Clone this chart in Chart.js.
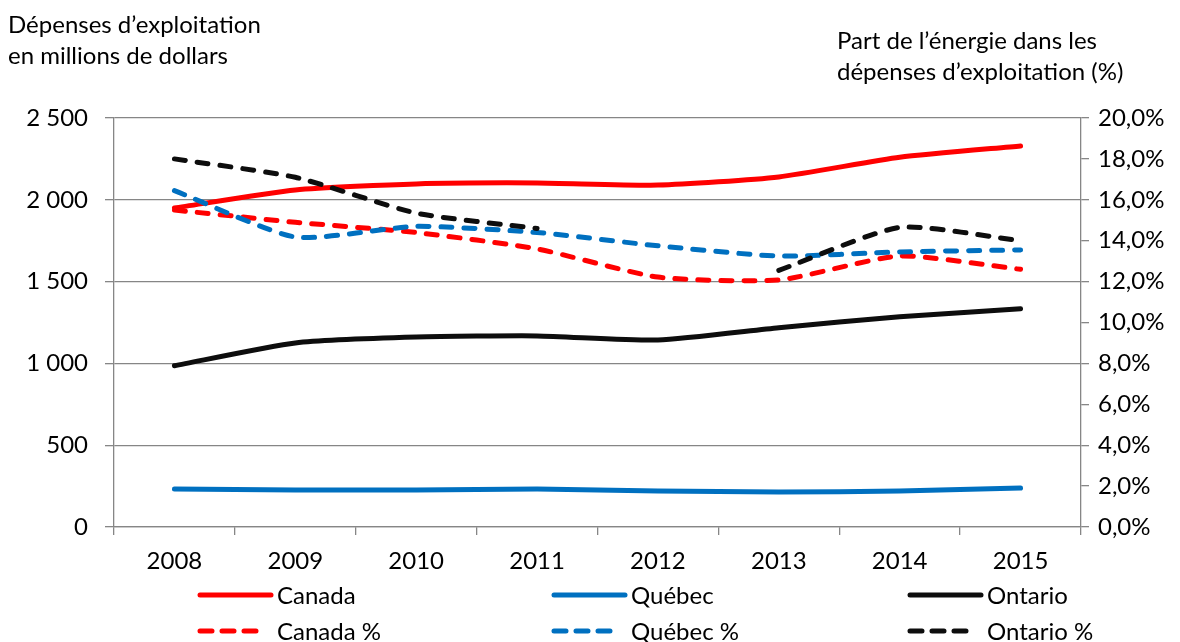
<!DOCTYPE html>
<html lang="fr">
<head>
<meta charset="utf-8">
<script src="https://cdn.jsdelivr.net/npm/chart.js@4.4.0/dist/chart.umd.min.js"></script>
<style>
  html, body { margin: 0; padding: 0; background: #fff; }
  #wrap { position: relative; width: 1180px; height: 642px; font-family: Lato, sans-serif; }
  #chart { position: absolute; left: 0; top: 0; }
  .ttl { position: absolute; font-size: 24px; line-height: 31px; color: #000; white-space: nowrap; }
</style>
</head>
<body>
<div id="wrap">
  <canvas id="chart" width="1180" height="642"></canvas>
  <div class="ttl" style="left:8px; top:8px;">Dépenses d’exploitation<br>en millions de dollars</div>
  <div class="ttl" style="left:837px; top:24px;">Part de l’énergie dans les<br>dépenses d’exploitation (%)</div>
</div>
<script>
const years = ['2008', '2009', '2010', '2011', '2012', '2013', '2014', '2015'];
const canada = [1950, 2060, 2097, 2103, 2090, 2140, 2260, 2329];
const quebec = [232, 226, 226, 232, 220, 214, 220, 238];
const ontario = [986, 1125, 1161, 1168, 1143, 1218, 1285, 1334];
const canadaPct = [15.5, 14.9, 14.4, 13.6, 12.22, 12.08, 13.25, 12.6];
const quebecPct = [16.45, 14.18, 14.7, 14.4, 13.75, 13.25, 13.45, 13.55];
const ontarioPct = [18.0, 17.1, 15.35, 14.6, null, 12.55, 14.65, 14.0];

const RED = '#ff0000', BLUE = '#0070c0', BLACK = '#0d0d0d';
const GRID = '#868686';
const FONT = 'Lato';
const FSIZE = 24;
const DASH = [11, 12];

function serie(label, data, color, axis, dashed, order) {
  return {
    label, data, yAxisID: axis,
    borderColor: color, backgroundColor: color,
    borderWidth: 5, borderDash: dashed ? DASH : [],
    borderCapStyle: 'round', borderJoinStyle: 'round',
    pointRadius: 0, pointHoverRadius: 0,
    tension: 0.2, spanGaps: false, fill: false, order
  };
}

const datasets = [
  serie('Canada', canada, RED, 'y', false, 6),
  serie('Québec', quebec, BLUE, 'y', false, 5),
  serie('Ontario', ontario, BLACK, 'y', false, 4),
  serie('Canada %', canadaPct, RED, 'y1', true, 3),
  serie('Québec %', quebecPct, BLUE, 'y1', true, 2),
  serie('Ontario %', ontarioPct, BLACK, 'y1', true, 1)
];

// legende sur 3 colonnes, 2 rangees
const legendCols = [200, 554, 910];
const legendRows = [595, 631];
const legendPlugin = {
  id: 'gridLegend',
  afterDraw(chart) {
    const ctx = chart.ctx;
    chart.data.datasets.forEach((ds, i) => {
      const x = legendCols[i % 3], y = legendRows[Math.floor(i / 3)];
      ctx.save();
      ctx.strokeStyle = ds.borderColor;
      ctx.lineWidth = 5;
      ctx.lineCap = 'round';
      ctx.setLineDash(ds.borderDash.length ? [12, 10] : []);
      ctx.beginPath();
      ctx.moveTo(x, y);
      ctx.lineTo(x + (ds.borderDash.length ? 62 : 71), y);
      ctx.stroke();
      ctx.setLineDash([]);
      ctx.fillStyle = '#000';
      ctx.font = FSIZE + 'px ' + FONT;
      ctx.textBaseline = 'middle';
      ctx.fillText(ds.label, x + 77, y + 1);
      ctx.restore();
    });
  }
};

const fmtThousands = v => String(v).replace(/\B(?=(\d{3})+(?!\d))/g, ' ');

new Chart(document.getElementById('chart'), {
  type: 'line',
  data: { labels: years, datasets },
  plugins: [legendPlugin],
  options: {
    responsive: false,
    animation: false,
    layout: { padding: { top: 118, left: 0, right: 0, bottom: 0 } },
    plugins: { legend: { display: false }, tooltip: { enabled: false } },
    scales: {
      x: {
        offset: true,
        grid: { offset: true, drawOnChartArea: false, drawTicks: true, tickLength: 8, color: GRID, lineWidth: 1.3 },
        border: { display: true, color: GRID, width: 1.3 },
        ticks: { color: '#000', font: { family: FONT, size: FSIZE }, padding: 12, maxRotation: 0 },
        afterFit: s => { s.height = 115; }
      },
      y: {
        position: 'left', min: 0, max: 2500,
        grid: { color: GRID, lineWidth: 1.3, tickLength: 9 },
        border: { display: true, color: GRID, width: 1.3 },
        ticks: { stepSize: 500, color: '#000', font: { family: FONT, size: FSIZE }, padding: 17, callback: v => fmtThousands(v) },
        afterFit: s => { s.width = 114; }
      },
      y1: {
        position: 'right', min: 0, max: 20,
        grid: { drawOnChartArea: false, color: GRID, lineWidth: 1.3, tickLength: 8 },
        border: { display: true, color: GRID, width: 1.3 },
        ticks: { stepSize: 2, color: '#000', font: { family: FONT, size: FSIZE }, padding: 9, callback: v => v.toFixed(1).replace('.', ',') + '%' },
        afterFit: s => { s.width = 99; }
      }
    }
  }
});
</script>
</body>
</html>
